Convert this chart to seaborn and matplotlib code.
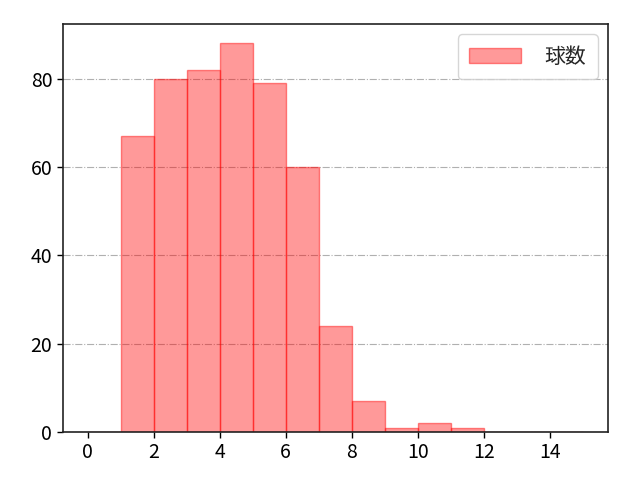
import matplotlib
matplotlib.use("Agg")
import matplotlib.pyplot as plt
import seaborn as sns
import pandas as pd

sns.set_style("ticks")
plt.rcParams['font.family'] = ['Noto Sans CJK JP', 'DejaVu Sans']

bin_left = [0, 1, 2, 3, 4, 5, 6, 7, 8, 9, 10, 11, 12, 13, 14]
counts = [0, 67, 80, 82, 88, 79, 60, 24, 7, 1, 2, 1, 0, 0, 0]
bin_edges = list(range(0, 16))
label = "球数"

df = pd.DataFrame({"x": [b + 0.5 for b in bin_left], "w": counts})

fig, ax = plt.subplots(figsize=(6.4, 4.8), dpi=100)
fig.subplots_adjust(left=0.098, right=0.95, top=0.95, bottom=0.1)
sns.histplot(data=df, x="x", weights="w", bins=bin_edges, ax=ax,
             color="red", alpha=0.4, linewidth=1, label=label)
for p in ax.patches:
    p.set_alpha(None)
    p.set_facecolor((1, 0, 0, 0.4))
    p.set_edgecolor((1, 0, 0, 0.45))
ax.set_xlabel("")
ax.set_ylabel("")
ax.set_xticks([0, 2, 4, 6, 8, 10, 12, 14])
ax.set_yticks([0, 20, 40, 60, 80])
ax.tick_params(labelsize=14, direction="out", length=4, width=1, colors="black")
ax.yaxis.grid(True, linestyle="-.", color="#b0b0b0", linewidth=0.8)
ax.set_axisbelow(True)
for s in ax.spines.values():
    s.set_visible(True)
    s.set_color("#222222")
    s.set_linewidth(1.2)
ax.legend(loc="upper right", fontsize=15, handlelength=2.5, handletextpad=1.1,
          borderpad=0.55)
fig.savefig("out.png", dpi=100)
